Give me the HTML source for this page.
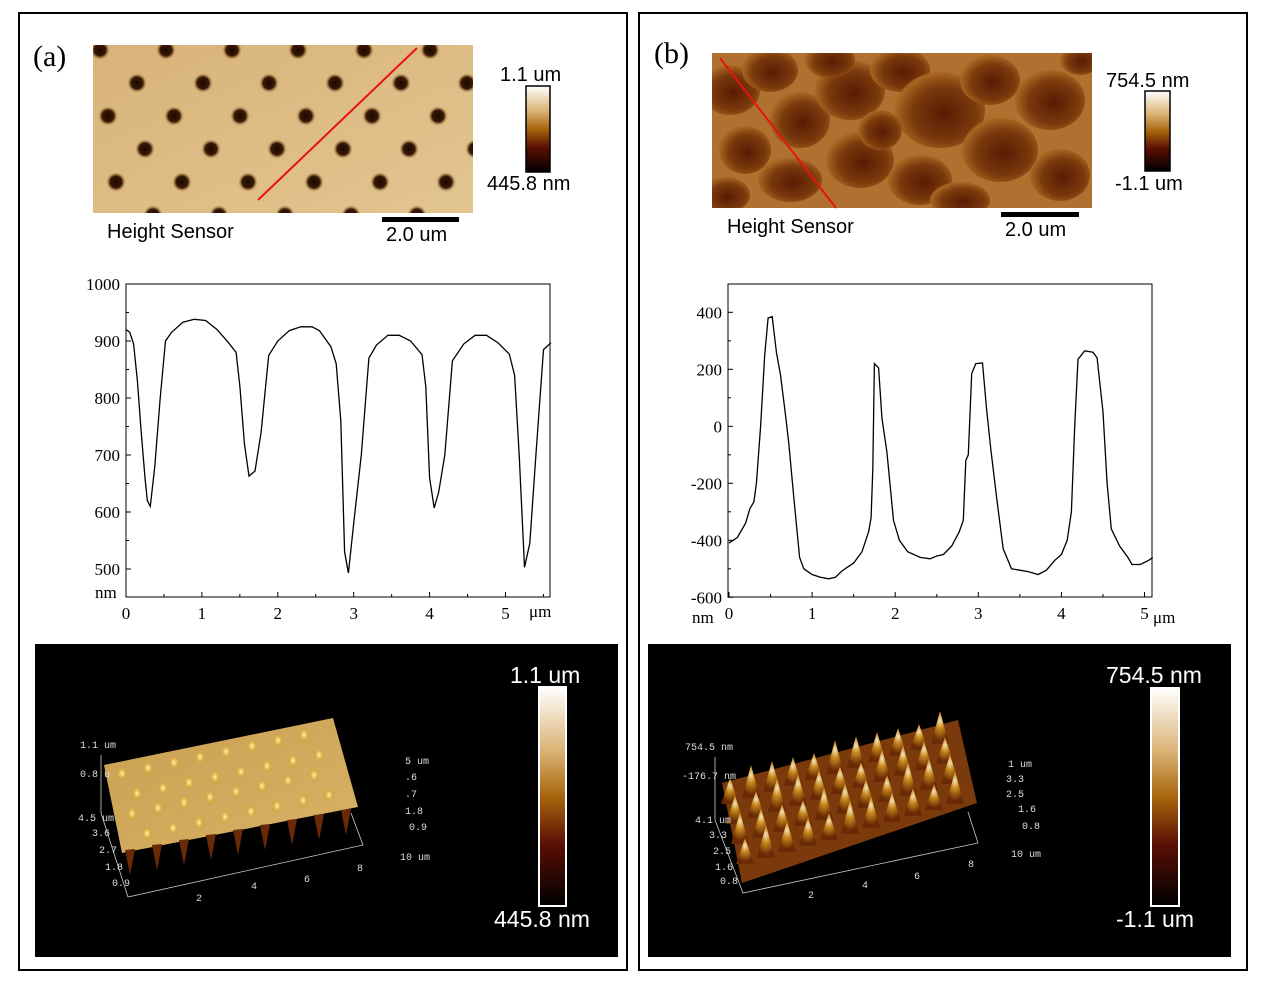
<!DOCTYPE html>
<html><head><meta charset="utf-8"><style>
body{margin:0;background:#fff;}
svg{display:block;font-family:"Liberation Sans",sans-serif;}
.serif{font-family:"Liberation Serif",serif;}
</style></head><body>
<svg id="fig" width="1269" height="991" viewBox="0 0 1269 991" xmlns="http://www.w3.org/2000/svg">
<defs>
<linearGradient id="cbar" x1="0" y1="0" x2="0" y2="1">
<stop offset="0" stop-color="#ffffff"/><stop offset="0.3" stop-color="#d9b070"/><stop offset="0.5" stop-color="#a8650d"/><stop offset="0.72" stop-color="#5a0f05"/><stop offset="1" stop-color="#000"/>
</linearGradient>
<radialGradient id="hole" cx="0.5" cy="0.5" r="0.5"><stop offset="0" stop-color="#1a0800"/><stop offset="0.6" stop-color="#3a1a05"/><stop offset="1" stop-color="#c99a55" stop-opacity="0"/></radialGradient>
<linearGradient id="tanbg" x1="0" y1="0" x2="1" y2="1"><stop offset="0" stop-color="#d8b379"/><stop offset="1" stop-color="#e3c590"/></linearGradient>
<radialGradient id="grain" cx="0.55" cy="0.55" r="0.6"><stop offset="0" stop-color="#5a1a04"/><stop offset="0.6" stop-color="#7a3a0c"/><stop offset="0.9" stop-color="#a86522"/><stop offset="1" stop-color="#a86522" stop-opacity="0"/></radialGradient>
<linearGradient id="surfA" x1="0" y1="0" x2="1" y2="1"><stop offset="0" stop-color="#caa052"/><stop offset="1" stop-color="#d9b266"/></linearGradient>
<radialGradient id="pitA" cx="0.5" cy="0.4" r="0.5"><stop offset="0" stop-color="#fff3a8"/><stop offset="0.5" stop-color="#e0b24a"/><stop offset="1" stop-color="#c89a45" stop-opacity="0"/></radialGradient>
<radialGradient id="peakB" cx="0.5" cy="0.3" r="0.6"><stop offset="0" stop-color="#f5e4b8"/><stop offset="0.4" stop-color="#c8891e"/><stop offset="1" stop-color="#6a2a05"/></radialGradient>
<clipPath id="clipA"><rect x="93" y="45" width="380" height="168"/></clipPath>
<clipPath id="clipB"><rect x="712" y="53" width="380" height="155"/></clipPath>
</defs>

<rect x="19" y="13" width="608" height="957" fill="none" stroke="#000" stroke-width="2"/>
<rect x="639" y="13" width="608" height="957" fill="none" stroke="#000" stroke-width="2"/>
<text x="33" y="66" class="serif" font-size="30">(a)</text>
<text x="654" y="63" class="serif" font-size="30">(b)</text>

<g id="imgA" clip-path="url(#clipA)">
<rect x="93" y="45" width="380" height="168" fill="url(#tanbg)"/>
</g>
<line x1="258" y1="200" x2="417" y2="48" stroke="#e8140c" stroke-width="2"/>
<text x="107" y="238" font-size="20">Height Sensor</text>
<rect x="382" y="217" width="77" height="5" fill="#000"/>
<text x="386" y="241" font-size="20">2.0 um</text>
<rect x="526" y="86" width="24" height="86" fill="url(#cbar)" stroke="#000" stroke-width="1.5"/>
<text x="500" y="81" font-size="20">1.1 um</text>
<text x="487" y="190" font-size="20">445.8 nm</text>

<g id="imgB" clip-path="url(#clipB)">
<rect x="712" y="53" width="380" height="155" fill="#b07030"/>
</g>
<line x1="720" y1="58" x2="836" y2="208" stroke="#e8140c" stroke-width="2"/>
<text x="727" y="233" font-size="20">Height Sensor</text>
<rect x="1001" y="212" width="78" height="5" fill="#000"/>
<text x="1005" y="236" font-size="20">2.0 um</text>
<rect x="1145" y="91" width="25" height="80" fill="url(#cbar)" stroke="#000" stroke-width="1.5"/>
<text x="1106" y="87" font-size="20">754.5 nm</text>
<text x="1115" y="190" font-size="20">-1.1 um</text>

<g id="chartA"></g>
<g id="chartB"></g>

<rect x="35" y="644" width="583" height="313" fill="#000"/>
<g id="surfA3d">
<polygon points="104,765 333,718 358,807 122,853" fill="url(#surfA)"/>
</g>
<g stroke="#ccc" stroke-width="0.8" fill="none">
<polyline points="101,755 101,813 128,897 363,845 351,813"/>
</g>
<g fill="#ddd" font-family="Liberation Mono,monospace" font-size="10">
<text x="80" y="748">1.1 um</text><text x="80" y="777">0.8 u</text>
<text x="78" y="821">4.5 um</text><text x="92" y="836">3.6</text><text x="99" y="853">2.7</text><text x="105" y="870">1.8</text><text x="112" y="886">0.9</text>
<text x="196" y="901">2</text><text x="251" y="889">4</text><text x="304" y="882">6</text><text x="357" y="871">8</text><text x="400" y="860">10 um</text>
<text x="405" y="764">5 um</text><text x="405" y="780">.6</text><text x="405" y="797">.7</text><text x="405" y="814">1.8</text><text x="409" y="830">0.9</text>
</g>
<rect x="539" y="687" width="27" height="219" fill="url(#cbar)" stroke="#fff" stroke-width="2"/>
<text x="510" y="683" font-size="23" fill="#fff">1.1 um</text>
<text x="494" y="927" font-size="23" fill="#fff">445.8 nm</text>

<rect x="648" y="644" width="583" height="313" fill="#000"/>
<g id="surfB3d">
<polygon points="722,783 958,720 977,803 742,883" fill="#7a3a0c"/>
</g>
<g stroke="#ccc" stroke-width="0.8" fill="none">
<polyline points="715,757 715,820 743,893 978,843 968,812"/>
</g>
<g fill="#ddd" font-family="Liberation Mono,monospace" font-size="10">
<text x="685" y="750">754.5 nm</text><text x="682" y="779">-176.7 nm</text>
<text x="695" y="823">4.1 um</text><text x="709" y="838">3.3</text><text x="713" y="854">2.5</text><text x="715" y="870">1.6</text><text x="720" y="884">0.8</text>
<text x="808" y="898">2</text><text x="862" y="888">4</text><text x="914" y="879">6</text><text x="968" y="867">8</text><text x="1011" y="857">10 um</text>
<text x="1008" y="767">1 um</text><text x="1006" y="782">3.3</text><text x="1006" y="797">2.5</text><text x="1018" y="812">1.6</text><text x="1022" y="829">0.8</text>
</g>
<rect x="1151" y="688" width="28" height="218" fill="url(#cbar)" stroke="#fff" stroke-width="2"/>
<text x="1106" y="683" font-size="23" fill="#fff">754.5 nm</text>
<text x="1116" y="927" font-size="23" fill="#fff">-1.1 um</text>
</svg>
<script>
const xA = [0,0.05,0.1,0.15,0.2,0.25,0.28,0.32,0.38,0.45,0.52,0.6,0.75,0.9,1.05,1.2,1.35,1.45,1.5,1.56,1.62,1.7,1.78,1.88,2.0,2.15,2.3,2.45,2.55,2.7,2.77,2.83,2.88,2.93,3.0,3.1,3.2,3.3,3.45,3.6,3.75,3.9,3.95,4.0,4.06,4.12,4.2,4.3,4.45,4.6,4.75,4.9,5.05,5.12,5.18,5.25,5.32,5.4,5.5,5.6];
const yA = [920,915,895,830,740,660,620,610,680,800,900,915,933,938,936,920,897,880,820,720,663,672,740,875,900,918,925,925,918,890,860,760,530,493,580,700,870,893,910,910,900,876,820,660,607,635,700,865,895,910,910,897,877,840,700,503,545,700,885,897];
const yTicksA = [500,600,700,800,900,1000];
const xTicksA = [0,1,2,3,4,5];
const xB = [0,0.1,0.2,0.25,0.3,0.33,0.38,0.43,0.47,0.52,0.57,0.62,0.68,0.72,0.78,0.85,0.9,1.0,1.1,1.2,1.28,1.35,1.42,1.5,1.6,1.68,1.71,1.73,1.75,1.8,1.84,1.9,1.98,2.05,2.15,2.3,2.42,2.5,2.58,2.68,2.77,2.82,2.85,2.88,2.92,2.97,3.05,3.1,3.15,3.22,3.3,3.4,3.5,3.6,3.72,3.82,3.92,4.0,4.07,4.12,4.16,4.2,4.28,4.38,4.43,4.5,4.55,4.6,4.7,4.8,4.85,4.95,5.05,5.1];
const yB = [-410,-390,-340,-290,-265,-200,0,250,380,385,260,180,40,-60,-250,-460,-500,-520,-530,-535,-530,-510,-495,-480,-440,-370,-320,-150,220,205,30,-90,-330,-400,-440,-460,-465,-455,-450,-420,-370,-330,-120,-100,185,220,222,60,-80,-250,-430,-500,-505,-510,-520,-505,-470,-450,-400,-300,0,235,265,260,240,50,-200,-360,-420,-460,-485,-485,-470,-460];
const yTicksB = [-600,-400,-200,0,200,400];
const xTicksB = [0,1,2,3,4,5];

const NS = 'http://www.w3.org/2000/svg';
function mk(tag, attrs, parent){const e=document.createElementNS(NS,tag);for(const k in attrs)e.setAttribute(k,attrs[k]);parent.appendChild(e);return e;}

function drawChart(g, cfg, xs, ys, yTicks, xTicks, key){
  const sx = v => cfg.x0 + (v - cfg.xmin) * cfg.pxX;
  const sy = v => cfg.yRef - (v - cfg.vRef) * cfg.pxY;
  const box = mk('rect',{x:cfg.L,y:cfg.T,width:cfg.R-cfg.L,height:cfg.B-cfg.T,fill:'none',stroke:'#000','stroke-width':1},g);
  
  
  yTicks.forEach(v=>{
    const y=sy(v);
    mk('line',{x1:cfg.L,y1:y,x2:cfg.L+5,y2:y,stroke:'#000'},g);
    const ym=sy(v+cfg.yStep/2);
    if(ym>cfg.T+1) mk('line',{x1:cfg.L,y1:ym,x2:cfg.L+3,y2:ym,stroke:'#000'},g);
    const t=mk('text',{x:cfg.L-6,y:y+6,'text-anchor':'end','font-size':17,'font-family':'Liberation Serif,serif'},g);
    t.textContent = v;
    
    
  });
  xTicks.forEach(v=>{
    const x=sx(v);
    mk('line',{x1:x,y1:cfg.B,x2:x,y2:cfg.B-5,stroke:'#000'},g);
    const xm=sx(v+0.5);
    if(xm<cfg.R-1) mk('line',{x1:xm,y1:cfg.B,x2:xm,y2:cfg.B-3,stroke:'#000'},g);
    const t=mk('text',{x:x,y:cfg.B+22,'text-anchor':'middle','font-size':17,'font-family':'Liberation Serif,serif'},g);
    t.textContent=v;
    
    
  });
  const pts = xs.map((x,i)=>sx(x).toFixed(1)+','+sy(ys[i]).toFixed(1)).join(' ');
  const pl = mk('polyline',{points:pts,fill:'none',stroke:'#000','stroke-width':1.3},g);
  
  
}
const gA=document.getElementById('chartA');
drawChart(gA,{L:126,R:550,T:284,B:597,x0:126,xmin:0,pxX:75.9,yRef:284,vRef:1000,pxY:0.57,yStep:100},xA,yA,yTicksA,xTicksA,'chart-a');
let t=mk('text',{x:95,y:598,'font-size':17,'font-family':'Liberation Serif,serif'},gA);t.textContent='nm';


t=mk('text',{x:529,y:617,'font-size':17,'font-family':'Liberation Serif,serif'},gA);t.textContent='μm';


const gB=document.getElementById('chartB');
drawChart(gB,{L:728,R:1152,T:284,B:597,x0:729,xmin:0,pxX:83.1,yRef:312.3,vRef:400,pxY:0.285,yStep:200},xB,yB,yTicksB,xTicksB,'chart-b');
t=mk('text',{x:692,y:623,'font-size':17,'font-family':'Liberation Serif,serif'},gB);t.textContent='nm';


t=mk('text',{x:1153,y:623,'font-size':17,'font-family':'Liberation Serif,serif'},gB);t.textContent='μm';



// decorative AFM imagery
const iA=document.getElementById('imgA');
for(let r=0;r<6;r++){for(let c=0;c<7;c++){
  const x=100+c*66+(r%2?33:0)+r*4, y=50+r*33;
  mk('circle',{cx:x,cy:y,r:10,fill:'url(#hole)'},iA);
}}
const iB=document.getElementById('imgB');
const blobs=[[730,90,30,25],[770,70,28,22],[800,120,30,28],[745,150,26,24],[790,180,32,22],[850,90,35,30],[860,160,34,28],[900,70,30,22],[940,110,45,38],[920,180,32,25],[990,80,30,25],[1000,150,38,32],[1050,100,35,30],[1060,175,30,26],[830,60,25,18],[960,200,30,18],[725,195,25,18],[880,130,22,20],[1080,60,20,15]];
blobs.forEach(b=>mk('ellipse',{cx:b[0],cy:b[1],rx:b[2],ry:b[3],fill:'url(#grain)'},iB));
const sA=document.getElementById('surfA3d');
for(let r=0;r<4;r++){for(let c=0;c<8;c++){
  const x=122+c*26+r*5+(r%2?10:0), y=775-c*5.5+r*20;
  mk('ellipse',{cx:x,cy:y,rx:6,ry:8,fill:'url(#pitA)'},sA);
}}
for(let c=0;c<9;c++){const x=130+c*27,y=850-c*5;mk('polygon',{points:`${x-5},${y} ${x+5},${y-1} ${x},${y+25}`,fill:'#6a2a08'},sA);}
const sB=document.getElementById('surfB3d');
for(let r=0;r<4;r++){for(let c=0;c<11;c++){
  const x=730+c*21+r*5, y=790-c*6+r*20;
  mk('polygon',{points:`${x-9},${y+14} ${x},${y-12-((c*7+r*3)%9)} ${x+9},${y+14}`,fill:'url(#peakB)'},sB);
}}
</script>
</body></html>
